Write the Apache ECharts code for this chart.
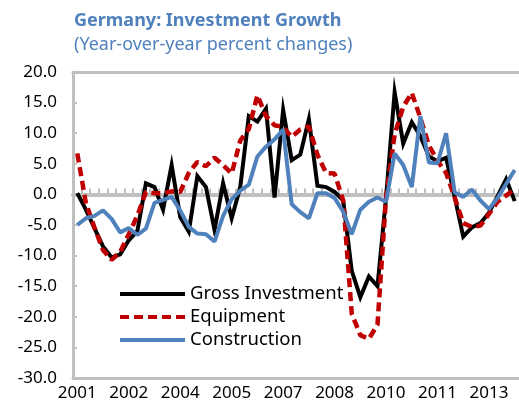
<!DOCTYPE html>
<html>
<head>
<meta charset="utf-8">
<script src="https://cdn.jsdelivr.net/npm/echarts@6/dist/echarts.min.js"></script>
<style>
html,body{margin:0;padding:0;background:#fff;}
#chart{width:519px;height:415px;}
</style>
</head>
<body>
<div id="chart"></div>
<script>
const quarters = [
  '2001Q1','2001Q2','2001Q3','2001Q4','2002Q1','2002Q2','2002Q3','2002Q4',
  '2003Q1','2003Q2','2003Q3','2003Q4','2004Q1','2004Q2','2004Q3','2004Q4',
  '2005Q1','2005Q2','2005Q3','2005Q4','2006Q1','2006Q2','2006Q3','2006Q4',
  '2007Q1','2007Q2','2007Q3','2007Q4','2008Q1','2008Q2','2008Q3','2008Q4',
  '2009Q1','2009Q2','2009Q3','2009Q4','2010Q1','2010Q2','2010Q3','2010Q4',
  '2011Q1','2011Q2','2011Q3','2011Q4','2012Q1','2012Q2','2012Q3','2012Q4',
  '2013Q1','2013Q2','2013Q3','2013Q4'
];
const grossInvestment = [
  0.2, -2.5, -5.5, -8.5, -10.3, -9.8, -7.5, -6.0,
  1.8, 1.2, -2.5, 4.8, -3.7, -6.1, 3.0, 1.2,
  -5.8, 1.8, -3.9, 1.2, 12.8, 11.9, 14.0, -0.5,
  13.8, 5.6, 6.5, 12.3, 1.4, 1.2, 0.4, -1.0,
  -12.5, -16.8, -13.4, -15.0, -0.5, 16.7, 8.3, 11.8,
  9.5, 6.2, 5.4, 6.0, -0.4, -6.9, -5.4, -4.7,
  -3.0, -0.3, 2.5, -1.1
];
const equipment = [
  6.7, -1.4, -5.4, -9.1, -10.7, -9.4, -6.5, -3.5,
  0.4, 0.2, 0.2, 0.5, 0.4, 3.5, 5.3, 4.6,
  6.0, 4.8, 3.4, 8.8, 10.7, 16.2, 12.8, 11.3,
  11.0, 9.4, 10.6, 11.1, 6.5, 3.5, 3.4, -1.0,
  -19.5, -23.0, -23.6, -21.3, -0.5, 9.8, 14.3, 16.6,
  12.5, 8.0, 5.5, 3.5, -0.5, -4.7, -5.3, -5.1,
  -3.2, -1.2, -0.2, 0.9
];
const construction = [
  -5.0, -3.9, -3.5, -2.6, -4.0, -6.2, -5.5, -6.6,
  -5.6, -1.4, -0.9, -0.4, -2.6, -5.3, -6.4, -6.5,
  -7.7, -3.5, -0.8, 0.6, 1.6, 6.2, 7.8, 9.0,
  10.6, -1.6, -2.9, -3.9, 0.2, 0.2, -0.6, -2.8,
  -6.5, -2.5, -1.2, -0.5, -1.2, 6.7, 4.8, 1.2,
  12.8, 5.2, 5.1, 10.0, 0.3, -0.4, 0.8, -1.0,
  -2.4, -0.6, 1.7, 4.0
];
const seriesNames = ['Gross Investment', 'Equipment', 'Construction'];
const yTicks = { min: -30, max: 20, step: 5 };

const FONT = 'Noto Sans';
const GRAY = '#BFBFBF';
const BLUE = '#4F81BD';

const chart = echarts.init(document.getElementById('chart'), null, { renderer: 'canvas' });
chart.setOption({
  animation: false,
  backgroundColor: '#fff',
  title: {
    text: 'Germany: Investment Growth',
    subtext: '(Year-over-year percent changes)',
    left: 69,
    top: 7,
    itemGap: 6,
    textStyle: { fontFamily: FONT, fontSize: 18, fontWeight: 'bold', color: BLUE },
    subtextStyle: { fontFamily: FONT, fontSize: 18, color: BLUE }
  },
  legend: {
    orient: 'vertical',
    left: 113,
    top: 279,
    itemWidth: 65,
    itemHeight: 20,
    itemGap: 3,
    data: seriesNames,
    itemStyle: { opacity: 0 },
    lineStyle: { width: 4 },
    textStyle: { fontFamily: FONT, fontSize: 18.5, color: '#000', lineHeight: 20 }
  },
  grid: { left: 73, top: 72, width: 447, height: 306 },
  xAxis: [
    {
      type: 'category',
      data: quarters,
      position: 'bottom',
      boundaryGap: true,
      axisLine: { show: true, onZero: false, lineStyle: { color: GRAY, width: 3 } },
      axisTick: { show: false },
      axisLabel: {
        interval: 5,
        margin: 7,
        fontFamily: FONT,
        fontSize: 17,
        color: '#000',
        formatter: v => v.slice(0, 4)
      },
      splitLine: { show: false }
    },
    {
      type: 'category',
      data: quarters,
      position: 'bottom',
      boundaryGap: true,
      axisLine: { show: true, onZero: true, lineStyle: { color: GRAY, width: 4 } },
      axisTick: { show: true, inside: true, interval: 0, length: 6, lineStyle: { color: GRAY, width: 2 } },
      axisLabel: { show: false },
      splitLine: { show: false }
    },
    {
      type: 'category',
      data: quarters,
      position: 'top',
      boundaryGap: true,
      axisLine: { show: true, onZero: false, lineStyle: { color: GRAY, width: 3 } },
      axisTick: { show: false },
      axisLabel: { show: false },
      splitLine: { show: false }
    }
  ],
  yAxis: {
    type: 'value',
    min: yTicks.min,
    max: yTicks.max,
    interval: yTicks.step,
    axisLine: { show: true, onZero: false, lineStyle: { color: GRAY, width: 3 } },
    axisTick: { show: true, inside: true, length: 4, lineStyle: { color: GRAY, width: 2 } },
    axisLabel: {
      margin: 16,
      fontFamily: FONT,
      fontSize: 17,
      color: '#000',
      formatter: v => v.toFixed(1)
    },
    splitLine: { show: false }
  },
  series: [
    {
      name: seriesNames[0],
      type: 'line',
      xAxisIndex: 0,
      data: grossInvestment,
      symbol: 'none',
      z: 2,
      lineStyle: { color: '#000', width: 4, join: 'miter' },
      itemStyle: { color: '#000' }
    },
    {
      name: seriesNames[1],
      type: 'line',
      xAxisIndex: 0,
      data: equipment,
      symbol: 'none',
      z: 3,
      lineStyle: { color: '#C00000', width: 4.5, type: [9, 5] },
      itemStyle: { color: '#C00000' }
    },
    {
      name: seriesNames[2],
      type: 'line',
      xAxisIndex: 0,
      data: construction,
      symbol: 'none',
      z: 4,
      lineStyle: { color: BLUE, width: 4 },
      itemStyle: { color: BLUE }
    }
  ]
});
</script>
</body>
</html>
